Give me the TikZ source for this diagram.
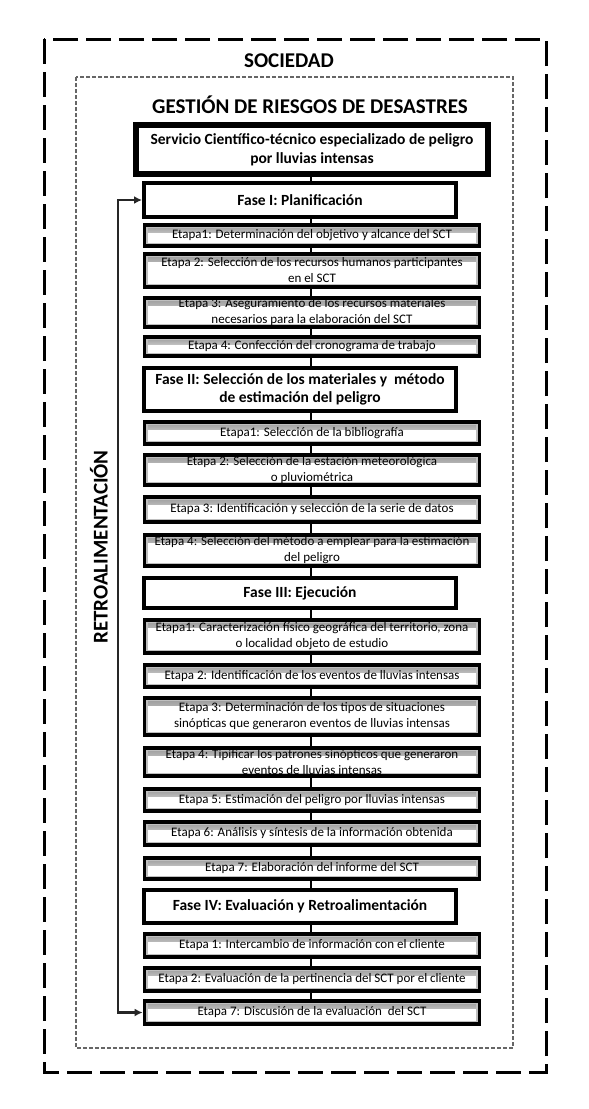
\documentclass[tikz,border=0pt]{standalone}
\usepackage{fontspec}
\setmainfont{Carlito}
\usetikzlibrary{arrows.meta}

\begin{document}
\begin{tikzpicture}[x=1pt, y=-1pt,
   stage/.style={draw, line width=3.8pt, fill=white, inner sep=0pt, align=center,
      minimum width=335pt, font=\fontsize{13}{16}\selectfont,
      path picture={
         \shade[top color=black!40, bottom color=white] (path picture bounding box.north west)
            rectangle ([yshift=-7pt]path picture bounding box.north east);
         \draw[black!25, line width=6.5pt] (path picture bounding box.north west)
            rectangle (path picture bounding box.south east);}},
   phase/.style={draw, line width=4pt, fill=white, inner sep=0pt, align=center,
      minimum width=312pt, font=\fontsize{15.5}{18.5}\selectfont\bfseries},
   link/.style={line width=2pt},
   feedback/.style={line width=2.4pt, black!85, {Latex[length=8pt,width=8pt]}-{Latex[length=8pt,width=8pt]}}]
 \useasboundingbox (0,0) rectangle (589,1109);
 % frames
 \draw[line width=3pt, dash pattern=on 25pt off 8pt] (44,39) rectangle (546,1072);
 \draw[black!60, line width=1.3pt, dash pattern=on 4pt off 2pt] (76,77) rectangle (513,1048);
 \node (soc) at (289,61) {\fontsize{21}{24}\selectfont\bfseries SOCIEDAD};
 \node (grd) at (310,105) {\fontsize{21}{24}\selectfont\bfseries GESTIÓN DE RIESGOS DE DESASTRES};
 \node (retro) [rotate=90] at (99,547) {\fontsize{21}{24}\selectfont\bfseries RETROALIMENTACIÓN};
 % service
 \node (serv) [draw, line width=6pt, fill=white, inner sep=0pt, align=center, minimum width=352pt,
    minimum height=49pt, font=\fontsize{15.5}{19}\selectfont\bfseries] at (312,149.5)
    {Servicio Científico-técnico especializado de peligro\\por lluvias intensas};
 % phase I
 \node (f1) [phase, minimum height=34pt] at (300,200) {Fase I: Planificación};
 \node (e11) [stage, minimum height=21pt] at (312,235.5) {Etapa1: Determinación del objetivo y alcance del SCT};
 \node (e12) [stage, minimum height=33pt] at (312,270.5) {Etapa 2: Selección de los recursos humanos participantes\\en el SCT};
 \node (e13) [stage, minimum height=29pt] at (312,312.5) {Etapa 3: Aseguramiento de los recursos materiales\\necesarios para la elaboración del SCT};
 \node (e14) [stage, minimum height=19pt] at (312,346.5) {Etapa 4: Confección del cronograma de trabajo};
 % phase II
 \node (f2) [phase, minimum height=43pt] at (300,389.5) {Fase II: Selección de los materiales y \ método\\de estimación del peligro};
 \node (e21) [stage, minimum height=22pt] at (312,433) {Etapa1: Selección de la bibliografía};
 \node (e22) [stage, minimum height=30pt] at (312,470) {Etapa 2: Selección de la estación meteorológica\\o pluviométrica};
 \node (e23) [stage, minimum height=25pt] at (312,509.5) {Etapa 3: Identificación y selección de la serie de datos};
 \node (e24) [stage, minimum height=31pt] at (312,550.5) {Etapa 4: Selección del método a emplear para la estimación\\del peligro};
 % phase III
 \node (f3) [phase, minimum height=30pt] at (300,593) {Fase III: Ejecución};
 \node (e31) [stage, minimum height=33pt] at (312,636.5) {Etapa1: Caracterización físico geográfica del territorio, zona\\o localidad objeto de estudio};
 \node (e32) [stage, minimum height=22pt] at (312,676) {Etapa 2: Identificación de los eventos de lluvias intensas};
 \node (e33) [stage, minimum height=37pt] at (312,716.5) {Etapa 3: Determinación de los tipos de situaciones\\sinópticas que generaron eventos de lluvias intensas};
 \node (e34) [stage, minimum height=28pt] at (312,762) {Etapa 4: Tipificar los patrones sinópticos que generaron\\eventos de lluvias intensas};
 \node (e35) [stage, minimum height=22pt] at (312,800) {Etapa 5: Estimación del peligro por lluvias intensas};
 \node (e36) [stage, minimum height=23pt] at (312,833.5) {Etapa 6: Análisis y síntesis de la información obtenida};
 \node (e37) [stage, minimum height=21pt] at (312,868.5) {Etapa 7: Elaboración del informe del SCT};
 % phase IV
 \node (f4) [phase, minimum height=33pt] at (300,906.5) {Fase IV: Evaluación y Retroalimentación};
 \node (e41) [stage, minimum height=23pt] at (312,945.5) {Etapa 1: Intercambio de información con el cliente};
 \node (e42) [stage, minimum height=23pt] at (312,979.5) {Etapa 2: Evaluación de la pertinencia del SCT por el cliente};
 \node (e43) [stage, minimum height=23pt] at (312,1012.5) {Etapa 7: Discusión de la evaluación \ del SCT};
 % links
 \coordinate (axis) at (311,0);
 \foreach \a/\b in {serv/f1, f1/e11, e11/e12, e12/e13, e13/e14, e14/f2, f2/e21, e21/e22, e22/e23,
    e23/e24, e24/f3, f3/e31, e31/e32, e32/e33, e33/e34, e34/e35, e35/e36, e36/e37, e37/f4,
    f4/e41, e41/e42, e42/e43}
   \draw[link] (\a.south -| axis) -- (\b.north -| axis);
 % feedback loop
 \coordinate (fbx) at (118,0);
 \draw[feedback] (f1.west) -- (f1.west -| fbx) -- (fbx |- e43.west) -- (e43.west);
\end{tikzpicture}
\end{document}
